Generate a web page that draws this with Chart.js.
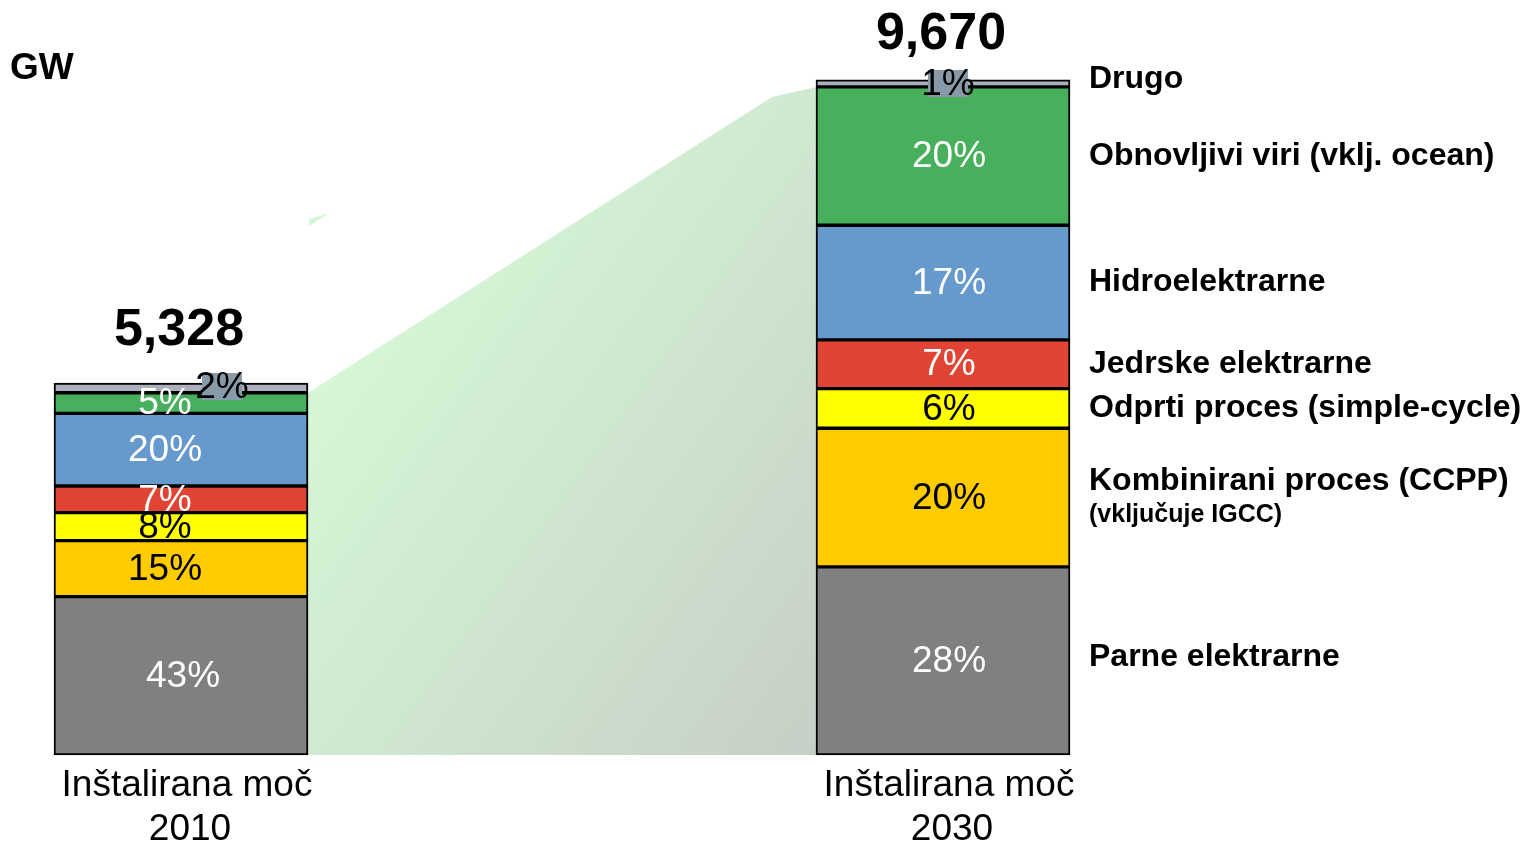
<!DOCTYPE html>
<html>
<head>
<meta charset="utf-8">
<script src="https://cdn.jsdelivr.net/npm/chart.js@4"></script>
<style>
  html, body { margin: 0; padding: 0; background: #fff; }
  #wrap { width: 1523px; height: 845px; }
</style>
</head>
<body>
<div id="wrap"><canvas id="capacity"></canvas></div>
<script>
// installed capacity, GW
const periods = [['Inštalirana moč', '2010'], ['Inštalirana moč', '2030']];
const totals = ['5,328', '9,670'];
const sources = ['Parne elektrarne', 'Kombinirani proces (CCPP)', 'Odprti proces (simple-cycle)',
                 'Jedrske elektrarne', 'Hidroelektrarne', 'Obnovljivi viri (vklj. ocean)', 'Drugo'];
const gw2010 = [2268, 802, 401, 382, 1041, 295, 139];
const gw2030 = [2694, 1987, 567, 698, 1643, 1981, 100];
const pct2010 = ['43%', '15%', '8%', '7%', '20%', '5%', '2%'];
const pct2030 = ['28%', '20%', '6%', '7%', '17%', '20%', '1%'];

const colors = ['#808080', '#ffcc00', '#ffff00', '#e04434', '#6699cc', '#48b05c', '#aab0bc'];
const textColors = ['#fff', '#000', '#000', '#fff', '#fff', '#fff', '#000'];
const FONT = '"Liberation Sans", Arial, sans-serif';

// green wedge linking the two bars
const wedge = {
  id: 'wedge',
  beforeDatasetsDraw(chart) {
    const ctx = chart.ctx;
    const top = chart.getDatasetMeta(5);
    const a = top.data[0], b = top.data[1];
    const zero = chart.scales.y.getPixelForValue(0);
    const aRight = a.x + a.width / 2, bLeft = b.x - b.width / 2;
    const g = ctx.createLinearGradient(aRight, a.y, bLeft, zero);
    g.addColorStop(0, '#d6f7d6');
    g.addColorStop(1, '#c6cfc6');
    ctx.save();
    ctx.fillStyle = g;
    ctx.beginPath();
    ctx.moveTo(aRight, a.y);
    ctx.lineTo(bLeft - 44, b.y + 10);
    ctx.lineTo(bLeft, b.y);
    ctx.lineTo(bLeft, zero);
    ctx.lineTo(aRight, zero);
    ctx.closePath();
    ctx.fill();
    // small stray sliver from the original slide
    ctx.fillStyle = '#d6f7d6';
    ctx.beginPath();
    ctx.moveTo(aRight + 1, 226);
    ctx.lineTo(aRight + 1, 219);
    ctx.lineTo(aRight + 22, 213);
    ctx.closePath();
    ctx.fill();
    ctx.restore();
  }
};

// percentages, totals, legend and category text
const annotate = {
  id: 'annotate',
  afterDatasetsDraw(chart) {
    const ctx = chart.ctx;
    const pcts = [pct2010, pct2030];
    ctx.save();
    ctx.textAlign = 'center';
    ctx.textBaseline = 'middle';
    for (let i = 0; i < sources.length; i++) {
      const meta = chart.getDatasetMeta(i);
      meta.data.forEach((bar, j) => {
        let x = bar.x + (j === 0 ? -16 : 6);
        let y = (bar.y + bar.base) / 2;
        if (j === 0 && i === 0) x = bar.x + 2;
        if (i === 6) {
          x = j === 0 ? bar.x + 41 : bar.x + 5;
          y = bar.y + 4;
          ctx.fillStyle = '#8899a8';
          ctx.fillRect(x - 20, y - 14, 40, 27);
        }
        ctx.font = '37px ' + FONT;
        ctx.fillStyle = textColors[i];
        ctx.fillText(pcts[j][i], x, y + 1);
      });
    }
    // totals above bars
    const topMeta = chart.getDatasetMeta(6);
    ctx.font = 'bold 52px ' + FONT;
    ctx.fillStyle = '#000';
    topMeta.data.forEach((bar, j) => {
      ctx.fillText(totals[j], bar.x - 2, bar.y - (j === 0 ? 52 : 45));
    });
    // category labels
    ctx.font = '37px ' + FONT;
    topMeta.data.forEach((bar, j) => {
      ctx.fillText(periods[j][0], bar.x + 6, 786);
      ctx.fillText(periods[j][1], bar.x + 9, 830);
    });
    // unit
    ctx.textAlign = 'left';
    ctx.font = 'bold 37px ' + FONT;
    ctx.fillText('GW', 10, 69);
    // legend beside the 2030 bar
    for (let i = 0; i < sources.length; i++) {
      const bar = chart.getDatasetMeta(i).data[1];
      const x = bar.x + bar.width / 2 + 19;
      let y = (bar.y + bar.base) / 2;
      if (i === 6) y = bar.y - 1;
      if (i === 0) y -= 4;
      ctx.font = 'bold 32px ' + FONT;
      if (i === 1) {
        ctx.fillText(sources[i], x, y - 16);
        ctx.font = 'bold 25px ' + FONT;
        ctx.fillText('(vključuje IGCC)', x, y + 18);
      } else {
        ctx.fillText(sources[i], x, y);
      }
    }
    ctx.restore();
  }
};

new Chart(document.getElementById('capacity'), {
  type: 'bar',
  data: {
    labels: periods,
    datasets: sources.map((s, i) => ({
      label: s,
      data: [gw2010[i], gw2030[i]],
      backgroundColor: colors[i],
      borderColor: '#000',
      borderWidth: 2,
      borderSkipped: false,
      barThickness: 254,
      clip: false
    }))
  },
  options: {
    responsive: true,
    maintainAspectRatio: false,
    animation: false,
    layout: { padding: { left: 181, right: 580, top: 22, bottom: 90 } },
    scales: {
      x: { stacked: true, offset: false, display: false },
      y: { stacked: true, min: 0, max: 10500, display: false }
    },
    plugins: { legend: { display: false }, tooltip: { enabled: false } }
  },
  plugins: [wedge, annotate]
});
</script>
</body>
</html>
